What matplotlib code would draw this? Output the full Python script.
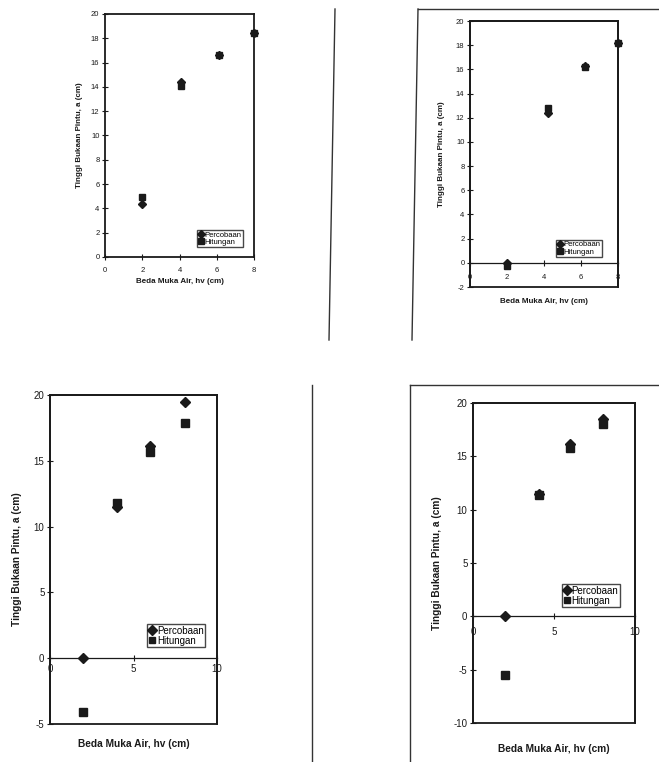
import matplotlib
matplotlib.use('Agg')
import matplotlib.pyplot as plt
from matplotlib.patches import Rectangle
from matplotlib.lines import Line2D

plt.rcParams['font.family'] = ['Liberation Sans', 'DejaVu Sans']
plt.rcParams['axes.unicode_minus'] = False

# Data
hv_1 = [2.0, 4.1, 6.1, 8.0]
percobaan_1 = [4.4, 14.4, 16.6, 18.4]
hitungan_1 = [4.9, 14.1, 16.6, 18.4]

hv_2 = [2.0, 4.2, 6.2, 8.0]
percobaan_2 = [-0.05, 12.4, 16.3, 18.2]
hitungan_2 = [-0.3, 12.8, 16.2, 18.2]

hv_3 = [2.0, 4.0, 6.0, 8.1]
percobaan_3 = [0.0, 11.5, 16.1, 19.5]
hitungan_3 = [-4.1, 11.8, 15.7, 17.9]

hv_4 = [2.0, 4.1, 6.0, 8.0]
percobaan_4 = [0.0, 11.5, 16.2, 18.5]
hitungan_4 = [-5.5, 11.4, 15.8, 18.0]

x_label = 'Beda Muka Air, hv (cm)'
y_label = 'Tinggi Bukaan Pintu, a (cm)'
legend_labels = ['Percobaan', 'Hitungan']

W, H = 659, 762
INK = '#1a1a1a'


def px_box(left, top, right, bottom):
    # pixel box -> figure fraction [l, b, w, h]
    return [left / W, 1 - bottom / H, (right - left) / W, (bottom - top) / H]


def draw_panel(ax, hv, perc, hit, xlim, xticks, ylim, yticks, fs, ms,
               leg_anchor, ylab_x, xlab_y, xpad):
    ax.plot(hv, perc, linestyle='none', marker='D', ms=ms, color=INK,
            mec=INK, clip_on=False, zorder=5, label=legend_labels[0])
    ax.plot(hv, hit, linestyle='none', marker='s', ms=ms, color=INK,
            mec=INK, clip_on=False, zorder=6, label=legend_labels[1])

    ax.set_xlim(*xlim)
    ax.set_ylim(*ylim)
    ax.set_xticks(xticks)
    ax.set_yticks(yticks)

    for s in ax.spines.values():
        s.set_linewidth(1.3)
        s.set_color(INK)

    if ylim[0] < 0:
        # x axis crosses at zero, keep a full frame around the plot area
        ax.spines['bottom'].set_position(('data', 0))
        ax.spines['bottom'].set_linewidth(0.9)
        ax.add_patch(Rectangle((0, 0), 1, 1, transform=ax.transAxes,
                               fill=False, lw=1.3, ec=INK, clip_on=False))

    ax.tick_params(direction='inout', length=4, width=0.8, colors=INK,
                   labelsize=fs)
    ax.tick_params(axis='x', pad=xpad)
    ax.tick_params(axis='y', pad=2)

    ax.set_xlabel(x_label, fontsize=fs + 0.3, fontweight='bold', color=INK)
    ax.set_ylabel(y_label, fontsize=fs + 0.3, fontweight='bold', color=INK)
    ax.yaxis.set_label_coords(ylab_x, 0.5)
    ax.xaxis.set_label_coords(0.5, xlab_y)

    leg = ax.legend(loc='lower right', bbox_to_anchor=leg_anchor,
                    fontsize=fs, frameon=True, fancybox=False,
                    edgecolor=INK, borderpad=0.15, handletextpad=0.0,
                    handlelength=0.9, labelspacing=0.0, borderaxespad=0.0,
                    markerscale=0.85)
    leg.get_frame().set_linewidth(1.0)


fig = plt.figure(figsize=(W / 100, H / 100), dpi=100)

ax1 = fig.add_axes(px_box(105, 14, 254, 257))
draw_panel(ax1, hv_1, percobaan_1, hitungan_1, (0, 8), [0, 2, 4, 6, 8],
           (0, 20), list(range(0, 21, 2)), 5.5, 4.5,
           (0.926, 0.041), -0.15, -0.085, 5)

ax2 = fig.add_axes(px_box(470, 21, 618, 287))
draw_panel(ax2, hv_2, percobaan_2, hitungan_2, (0, 8), [0, 2, 4, 6, 8],
           (-2, 20), list(range(-2, 21, 2)), 5.5, 4.5,
           (0.89, 0.113), -0.17, -0.04, 6)

ax3 = fig.add_axes(px_box(50, 395, 217, 724))
draw_panel(ax3, hv_3, percobaan_3, hitungan_3, (0, 10), [0, 5, 10],
           (-5, 20), list(range(-5, 21, 5)), 7, 5.5,
           (0.928, 0.234), -0.17, -0.045, 2)

ax4 = fig.add_axes(px_box(473, 403, 635, 723))
draw_panel(ax4, hv_4, percobaan_4, hitungan_4, (0, 10), [0, 5, 10],
           (-10, 20), list(range(-10, 21, 5)), 7, 5.5,
           (0.907, 0.3625), -0.19, -0.065, 6)

# page edges visible in the scan
page_edges = [
    [(335, 9), (329, 340)],
    [(418, 9), (412, 340)],
    [(418, 9), (659, 9)],
    [(312, 385), (312, 762)],
    [(410, 385), (410, 762)],
    [(410, 385), (659, 385)],
]
for (x0, y0), (x1, y1) in page_edges:
    fig.add_artist(Line2D([x0 / W, x1 / W], [1 - y0 / H, 1 - y1 / H],
                          transform=fig.transFigure, color='#333333', lw=1.0))

fig.savefig('out.png', dpi=100)
